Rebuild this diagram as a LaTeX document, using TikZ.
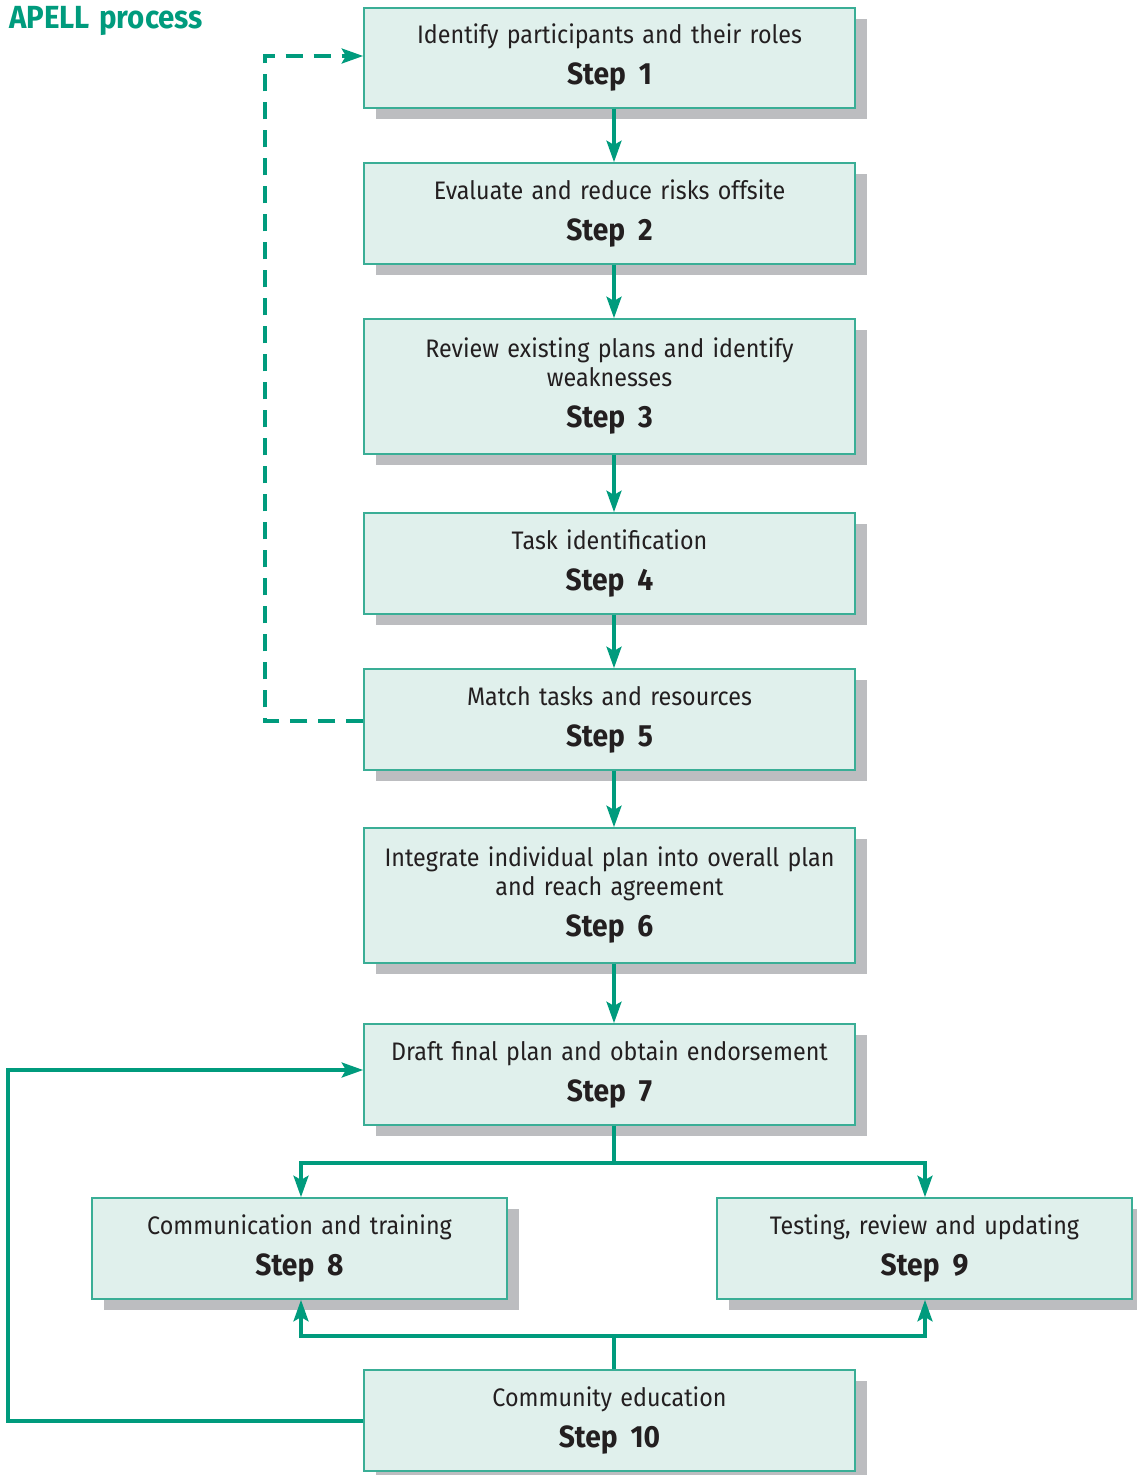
\documentclass[tikz,border=0pt]{standalone}
\usepackage{fontspec}
\setmainfont{Fira Sans}[FakeStretch=0.92, WordSpace=1.35]
\usetikzlibrary{arrows.meta,shadows}
\definecolor{tealc}{HTML}{009B7D}
\definecolor{boxline}{HTML}{3AAE96}
\definecolor{boxfill}{HTML}{E0F0EC}
\definecolor{shadowgray}{HTML}{BCBDC0}
\definecolor{textdark}{HTML}{231F20}
\newcommand\stp[1]{\\[9pt]{\fontsize{23}{21.75}\selectfont\bfseries Step\hspace{0.42em}#1}}
\tikzset{
  box/.style={draw=boxline, line width=1.1pt, fill=boxfill, align=center, inner sep=0pt,
    minimum width=368.25pt, minimum height=75.75pt, text=textdark,
    font=\fontsize{19}{21.75}\selectfont,
    drop shadow={shadow xshift=9pt, shadow yshift=-8pt, fill=shadowgray, opacity=1}},
  smallbox/.style={box, minimum width=311.25pt},
  conn/.style={draw=tealc, line width=3.6pt},
  arr/.style={conn, -{Stealth[length=16pt,width=11pt,inset=3pt]}},
  dasharr/.style={arr, dash pattern=on 12.75pt off 8.25pt},
}
\begin{document}
\begin{tikzpicture}[x=0.75pt,y=-0.75pt]
\useasboundingbox (0,0) rectangle (1136,1475);
\node[font=\fontsize{24}{28}\selectfont\bfseries, text=tealc, anchor=west, inner sep=0pt] (title) at (9,21) {APELL process};

\node[box, minimum height=75pt] (b1) at (609.5,58) {Identify participants and their roles\stp{1}};
\node[box] (b2) at (609.5,213.5) {Evaluate and reduce risks offsite\stp{2}};
\node[box, minimum height=101.25pt] (b3) at (609.5,386.5) {Review existing plans and identify\\weaknesses\stp{3}};
\node[box] (b4) at (609.5,563.5) {Task identification\stp{4}};
\node[box] (b5) at (609.5,719.5) {Match tasks and resources\stp{5}};
\node[box, minimum height=101.25pt] (b6) at (609.5,895.5) {Integrate individual plan into overall plan\\and reach agreement\stp{6}};
\node[box] (b7) at (609.5,1074.5) {Draft final plan and obtain endorsement\stp{7}};
\node[smallbox] (b8) at (299.5,1248.5) {Communication and training\stp{8}};
\node[smallbox] (b9) at (924.5,1248.5) {Testing, review and updating\stp{9}};
\node[box] (b10) at (609.5,1420.5) {Community education\stp{10}};

\coordinate (tx) at (614,0);
\coordinate (c8) at (301,0);
\coordinate (c9) at (925,0);
\coordinate (s1) at (614,1163);
\coordinate (s2) at (614,1336);

\draw[arr] (b1.south -| tx) -- (b2.north -| tx);
\draw[arr] (b2.south -| tx) -- (b3.north -| tx);
\draw[arr] (b3.south -| tx) -- (b4.north -| tx);
\draw[arr] (b4.south -| tx) -- (b5.north -| tx);
\draw[arr] (b5.south -| tx) -- (b6.north -| tx);
\draw[arr] (b6.south -| tx) -- (b7.north -| tx);

\draw[conn] (b7.south -| tx) -- (s1);
\draw[arr] (s1) -| (b8.north -| c8);
\draw[arr] (s1) -| (b9.north -| c9);

\draw[conn] (b10.north -| tx) -- (s2);
\draw[arr] (s2) -| (b8.south -| c8);
\draw[arr] (s2) -| (b9.south -| c9);

\draw[arr] (b10.west |- 0,1421) -- (8,1421) |- (b7.west |- 0,1070);
\draw[dasharr] (b5.west |- 0,721) -- (265,721) |- (b1.west |- 0,56);
\end{tikzpicture}
\end{document}
